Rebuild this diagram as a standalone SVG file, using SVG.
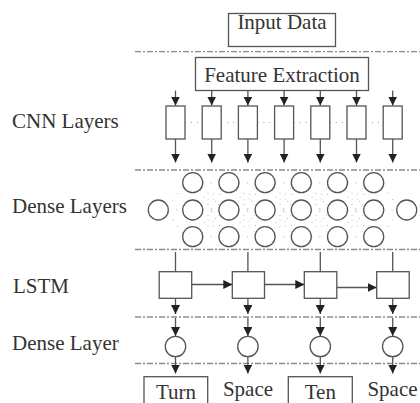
<svg xmlns="http://www.w3.org/2000/svg" width="420" height="403" viewBox="0 0 420 403" font-family="'Liberation Serif', 'Times New Roman', serif" font-size="21">
<defs>
<style>
.t{font-family:"Liberation Serif","Times New Roman",serif;font-size:21px;fill:#333}
.mid{text-anchor:middle}
.sep{stroke:#8a8a8a;stroke-width:1.3;stroke-dasharray:6 2 2 2;fill:none}
.box{fill:#fff;stroke:#555;stroke-width:1.3}
.ln{stroke:#555;stroke-width:1.3;fill:none}
.dot{stroke:#999;stroke-width:1;stroke-dasharray:1 5;fill:none}
.dot2{stroke:#aaa;stroke-width:1;stroke-dasharray:1 7;fill:none}
.ah{fill:#222}
</style>
<marker id="arr" viewBox="0 0 10 10" refX="10" refY="5" markerWidth="9" markerHeight="9" markerUnits="userSpaceOnUse" orient="auto">
<path d="M0,0 L10,5 L0,10 Z" class="ah"/>
</marker>
</defs>
<rect width="420" height="403" fill="#fff"/>

<g id="separators">
<line class="sep" x1="135" y1="51.7" x2="420" y2="51.7"/>
<line class="sep" x1="135" y1="170" x2="420" y2="170"/>
<line class="sep" x1="135" y1="249.5" x2="420" y2="249.5"/>
<line class="sep" x1="135" y1="317" x2="420" y2="317"/>
<line class="sep" x1="135" y1="363.5" x2="420" y2="363.5"/>
</g>

<g id="labels">
<text class="t" font-family="Liberation Serif" x="12" y="128">CNN Layers</text>
<text class="t" font-family="Liberation Serif" x="12" y="213">Dense Layers</text>
<text class="t" font-family="Liberation Serif" x="13" y="292.5">LSTM</text>
<text class="t" font-family="Liberation Serif" x="12" y="350">Dense Layer</text>
</g>

<g id="connectors">
<path class="ln" marker-end="url(#arr)" d="M175.5,90.5 V105.5"/>
<path class="ln" marker-end="url(#arr)" d="M211.7,90.5 V105.5"/>
<path class="ln" marker-end="url(#arr)" d="M247.9,90.5 V105.5"/>
<path class="ln" marker-end="url(#arr)" d="M284.1,90.5 V105.5"/>
<path class="ln" marker-end="url(#arr)" d="M320.3,90.5 V105.5"/>
<path class="ln" marker-end="url(#arr)" d="M356.5,90.5 V105.5"/>
<path class="ln" marker-end="url(#arr)" d="M392.7,90.5 V105.5"/>
<path class="ln" marker-end="url(#arr)" d="M175.5,139 V162.5"/>
<path class="ln" marker-end="url(#arr)" d="M211.7,139 V162.5"/>
<path class="ln" marker-end="url(#arr)" d="M247.9,139 V162.5"/>
<path class="ln" marker-end="url(#arr)" d="M284.1,139 V162.5"/>
<path class="ln" marker-end="url(#arr)" d="M320.3,139 V162.5"/>
<path class="ln" marker-end="url(#arr)" d="M356.5,139 V162.5"/>
<path class="ln" marker-end="url(#arr)" d="M392.7,139 V162.5"/>
<path class="dot" d="M185,122.5 H202.2 M221.2,122.5 H238.4 M257.4,122.5 H274.6 M293.6,122.5 H310.8 M329.8,122.5 H347 M366,122.5 H383.2"/>
<path class="dot2" d="M168,207 L183,186 M168.3,210 L182.7,210 M168,213 L183,233
M202.7,182.7 H218.9 M202,187 L220,206 M200,190 L222,230
M202,206 L220,187 M202.7,210 H218.9 M202,214 L220,233
M200,230 L222,190 M202,233 L220,214 M202.7,236.7 H218.9
M238.9,182.7 H255.1 M238,187 L256,206 M236,190 L258,230
M238,206 L256,187 M238.9,210 H255.1 M238,214 L256,233
M236,230 L258,190 M238,233 L256,214 M238.9,236.7 H255.1
M275.1,182.7 H291.3 M274,187 L292,206 M272,190 L294,230
M274,206 L292,187 M275.1,210 H291.3 M274,214 L292,233
M272,230 L294,190 M274,233 L292,214 M275.1,236.7 H291.3
M311.3,182.7 H327.5 M310,187 L328,206 M308,190 L330,230
M310,206 L328,187 M311.3,210 H327.5 M310,214 L328,233
M308,230 L330,190 M310,233 L328,214 M311.3,236.7 H327.5
M347.5,182.7 H363.7 M346,187 L364,206 M344,190 L366,230
M346,206 L364,187 M347.5,210 H363.7 M346,214 L364,233
M344,230 L366,190 M346,233 L364,214 M347.5,236.7 H363.7
M383,186 L398,207 M383.7,210 H396.7 M383,233 L398,213"/>
<path class="ln" d="M175.5,252 V271.7 M247.9,252 V271.7 M320.3,252 V271.7 M392.7,252 V271.7"/>
<path class="ln" marker-end="url(#arr)" d="M191.7,284.5 H232.3"/>
<path class="ln" marker-end="url(#arr)" d="M264.5,284.5 H304.3"/>
<path class="ln" marker-end="url(#arr)" d="M336.8,287.5 H376.7"/>
<path class="ln" marker-end="url(#arr)" d="M175.5,298.3 V314"/>
<path class="ln" marker-end="url(#arr)" d="M247.9,298.3 V314"/>
<path class="ln" marker-end="url(#arr)" d="M320.3,298.3 V314"/>
<path class="ln" marker-end="url(#arr)" d="M392.7,298.3 V314"/>
<path class="ln" marker-end="url(#arr)" d="M175.5,318 V336"/>
<path class="ln" marker-end="url(#arr)" d="M247.9,318 V336"/>
<path class="ln" marker-end="url(#arr)" d="M320.3,318 V336"/>
<path class="ln" marker-end="url(#arr)" d="M392.7,318 V336"/>
<path class="ln" marker-end="url(#arr)" d="M175.5,356.8 V373.5"/>
<path class="ln" marker-end="url(#arr)" d="M247.9,356.8 V373.5"/>
<path class="ln" marker-end="url(#arr)" d="M320.3,356.8 V373.5"/>
<path class="ln" marker-end="url(#arr)" d="M392.7,356.8 V373.5"/>
</g>

<g id="input-data">
<rect class="box" x="228.5" y="13.5" width="107" height="33"/>
<text class="t mid" font-family="Liberation Serif" x="282" y="29">Input Data</text>
</g>

<g id="feature-extraction">
<rect class="box" x="195.5" y="57.5" width="173" height="33"/>
<text class="t mid" font-family="Liberation Serif" x="282" y="81.5">Feature Extraction</text>
</g>

<g id="cnn-layers">
<rect class="box" x="166" y="106" width="19" height="33"/>
<rect class="box" x="202.2" y="106" width="19" height="33"/>
<rect class="box" x="238.4" y="106" width="19" height="33"/>
<rect class="box" x="274.6" y="106" width="19" height="33"/>
<rect class="box" x="310.8" y="106" width="19" height="33"/>
<rect class="box" x="347" y="106" width="19" height="33"/>
<rect class="box" x="383.2" y="106" width="19" height="33"/>
</g>

<g id="dense-layers">
<circle class="box" cx="158.3" cy="210" r="10"/>
<circle class="box" cx="406.7" cy="210" r="10"/>
<circle class="box" cx="192.7" cy="182.7" r="10"/>
<circle class="box" cx="228.9" cy="182.7" r="10"/>
<circle class="box" cx="265.1" cy="182.7" r="10"/>
<circle class="box" cx="301.3" cy="182.7" r="10"/>
<circle class="box" cx="337.5" cy="182.7" r="10"/>
<circle class="box" cx="373.7" cy="182.7" r="10"/>
<circle class="box" cx="192.7" cy="210" r="10"/>
<circle class="box" cx="228.9" cy="210" r="10"/>
<circle class="box" cx="265.1" cy="210" r="10"/>
<circle class="box" cx="301.3" cy="210" r="10"/>
<circle class="box" cx="337.5" cy="210" r="10"/>
<circle class="box" cx="373.7" cy="210" r="10"/>
<circle class="box" cx="192.7" cy="236.7" r="10"/>
<circle class="box" cx="228.9" cy="236.7" r="10"/>
<circle class="box" cx="265.1" cy="236.7" r="10"/>
<circle class="box" cx="301.3" cy="236.7" r="10"/>
<circle class="box" cx="337.5" cy="236.7" r="10"/>
<circle class="box" cx="373.7" cy="236.7" r="10"/>
</g>

<g id="lstm">
<rect class="box" x="159.2" y="271.7" width="32.5" height="26.6"/>
<rect class="box" x="232.3" y="271.7" width="32.2" height="26.6"/>
<rect class="box" x="304.3" y="271.7" width="32.5" height="26.6"/>
<rect class="box" x="376.7" y="271.7" width="32.5" height="26.6"/>
</g>

<g id="dense-layer">
<circle class="box" cx="175.5" cy="346.5" r="10.2"/>
<circle class="box" cx="247.9" cy="346.5" r="10.2"/>
<circle class="box" cx="320.3" cy="346.5" r="10.2"/>
<circle class="box" cx="392.7" cy="346.5" r="10.2"/>
</g>

<g id="out-turn">
<rect class="box" x="144" y="376.7" width="63.7" height="32"/>
<text class="t mid" font-family="Liberation Serif" x="176" y="398.5">Turn</text>
</g>
<g id="out-space-1">
<text class="t mid" font-family="Liberation Serif" x="248" y="396">Space</text>
</g>
<g id="out-ten">
<rect class="box" x="288.3" y="376.7" width="64" height="32"/>
<text class="t mid" font-family="Liberation Serif" x="320.3" y="398.5">Ten</text>
</g>
<g id="out-space-2">
<text class="t mid" font-family="Liberation Serif" x="392.5" y="396">Space</text>
</g>
</svg>
